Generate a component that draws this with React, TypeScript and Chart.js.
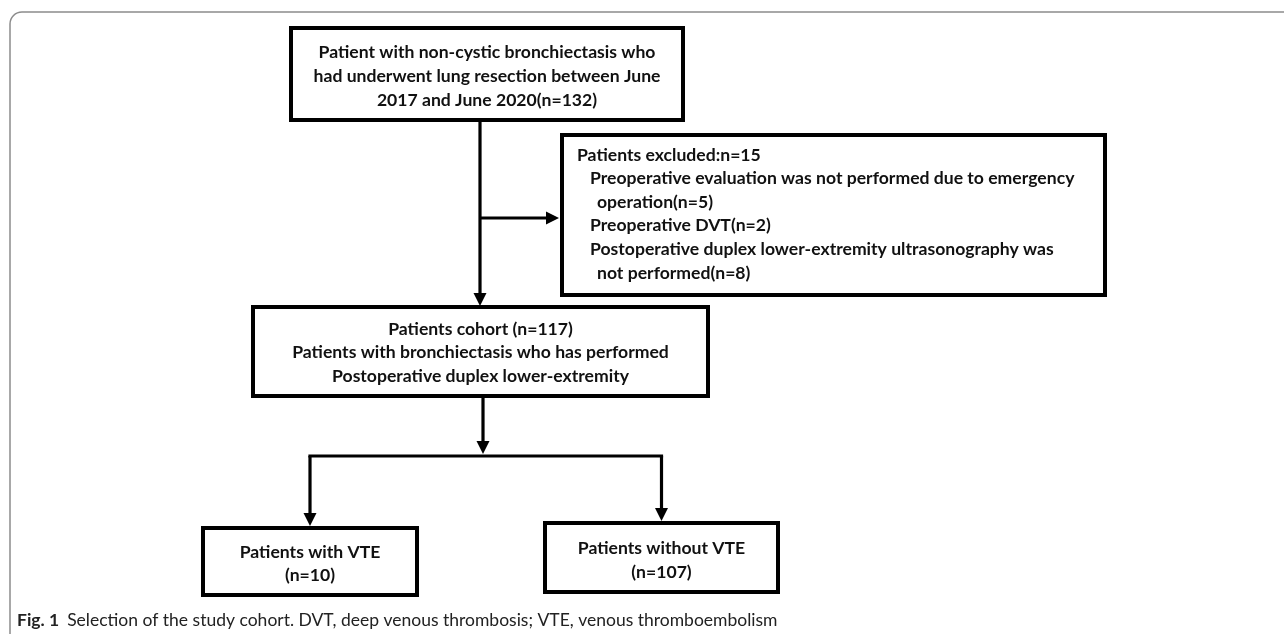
import React, { useEffect, useRef } from "react";
import { Chart, registerables } from "chart.js";

Chart.register(...registerables);

// ---- content (data) ----
const sourceLines = [
  "Patient with non-cystic bronchiectasis who",
  "had underwent lung resection between June",
  "2017 and June 2020(n=132)",
];
const excludedHeader = "Patients excluded:n=15";
const excludedReasons = [
  ["Preoperative evaluation was not performed due to emergency", "operation(n=5)"],
  ["Preoperative DVT(n=2)"],
  ["Postoperative duplex lower-extremity ultrasonography was", "not performed(n=8)"],
];
const cohortLines = [
  "Patients cohort (n=117)",
  "Patients with bronchiectasis who has performed",
  "Postoperative duplex lower-extremity",
];
const vteLines = ["Patients with VTE", "(n=10)"];
const noVteLines = ["Patients without VTE", "(n=107)"];
const captionLabel = "Fig. 1";
const captionText =
  "Selection of the study cohort. DVT, deep venous thrombosis; VTE, venous thromboembolism";

// ---- layout (in scale units) ----
const W = 1284;
const H = 634;
const layout = {
  source: { x0: 291, x1: 683, y0: 28, y1: 120, lineH: 24, firstY: 52 },
  excluded: { x0: 562, x1: 1105, y0: 135, y1: 295, lineH: 23.6, firstY: 155, hx: 577, rx: 590, cx: 597 },
  cohort: { x0: 253, x1: 708, y0: 307, y1: 396, lineH: 23.5, firstY: 329 },
  vte: { x0: 203, x1: 417, y0: 528, y1: 595, lineH: 23, firstY: 552 },
  noVte: { x0: 545, x1: 778, y0: 523, y1: 592, lineH: 24, firstY: 548 },
  trunkX: 480,
  sideY: 218,
  trunk2X: 483,
  splitY: 456,
  caption: { x: 17, y: 620 },
};
const boxFont = "bold 17.6px Lato";
const captionBold = "bold 17.5px Lato";
const captionFont = "17.5px Lato";

const flowPlugin = {
  id: "flow",
  afterDraw(chart: any) {
    const ctx: CanvasRenderingContext2D = chart.ctx;
    const xs = chart.scales.x;
    const ys = chart.scales.y;
    const X = (v: number) => xs.getPixelForValue(v);
    const Y = (v: number) => ys.getPixelForValue(v);

    ctx.save();
    // frame
    ctx.strokeStyle = "#8c8c8c";
    ctx.lineWidth = 1.5;
    ctx.beginPath();
    ctx.moveTo(X(10), Y(H + 10));
    ctx.lineTo(X(10), Y(24));
    ctx.arcTo(X(10), Y(12), X(22), Y(12), 12);
    ctx.lineTo(X(W + 10), Y(12));
    ctx.stroke();

    const rect = (b: any) => {
      ctx.strokeStyle = "#000";
      ctx.lineWidth = 4;
      ctx.strokeRect(X(b.x0), Y(b.y0), X(b.x1) - X(b.x0), Y(b.y1) - Y(b.y0));
    };
    const centered = (b: any, lines: string[]) => {
      ctx.fillStyle = "#111";
      ctx.font = boxFont;
      ctx.textAlign = "center";
      ctx.textBaseline = "middle";
      const cx = (b.x0 + b.x1) / 2;
      lines.forEach((t, i) => ctx.fillText(t, X(cx), Y(b.firstY + i * b.lineH)));
    };
    const arrow = (x0: number, y0: number, x1: number, y1: number) => {
      const px0 = X(x0), py0 = Y(y0), px1 = X(x1), py1 = Y(y1);
      const dx = px1 - px0, dy = py1 - py0;
      const len = Math.hypot(dx, dy);
      const ux = dx / len, uy = dy / len;
      const hl = 13, hw = 6.5;
      ctx.strokeStyle = "#000";
      ctx.lineWidth = 3.2;
      ctx.beginPath();
      ctx.moveTo(px0, py0);
      ctx.lineTo(px1 - ux * hl, py1 - uy * hl);
      ctx.stroke();
      ctx.fillStyle = "#000";
      ctx.beginPath();
      ctx.moveTo(px1, py1);
      ctx.lineTo(px1 - ux * hl - uy * hw, py1 - uy * hl + ux * hw);
      ctx.lineTo(px1 - ux * hl + uy * hw, py1 - uy * hl - ux * hw);
      ctx.closePath();
      ctx.fill();
    };
    const line = (x0: number, y0: number, x1: number, y1: number) => {
      ctx.strokeStyle = "#000";
      ctx.lineWidth = 3.2;
      ctx.beginPath();
      ctx.moveTo(X(x0), Y(y0));
      ctx.lineTo(X(x1), Y(y1));
      ctx.stroke();
    };

    const L = layout;
    rect(L.source);
    centered(L.source, sourceLines);

    rect(L.excluded);
    ctx.fillStyle = "#111";
    ctx.font = boxFont;
    ctx.textAlign = "left";
    ctx.textBaseline = "middle";
    const e = L.excluded;
    ctx.fillText(excludedHeader, X(e.hx), Y(e.firstY));
    let row = 1;
    excludedReasons.forEach((reason) => {
      reason.forEach((t, j) => {
        ctx.fillText(t, X(j === 0 ? e.rx : e.cx), Y(e.firstY + row * e.lineH));
        row++;
      });
    });

    rect(L.cohort);
    centered(L.cohort, cohortLines);
    rect(L.vte);
    centered(L.vte, vteLines);
    rect(L.noVte);
    centered(L.noVte, noVteLines);

    // connectors
    arrow(L.trunkX, L.source.y1, L.trunkX, L.cohort.y0 - 1);
    arrow(L.trunkX, L.sideY, L.excluded.x0 - 3, L.sideY);
    arrow(L.trunk2X, L.cohort.y1, L.trunk2X, L.splitY - 2);
    const lx = (L.vte.x0 + L.vte.x1) / 2;
    const rx = (L.noVte.x0 + L.noVte.x1) / 2;
    line(lx - 1.6, L.splitY, rx + 1.6, L.splitY);
    arrow(lx, L.splitY, lx, L.vte.y0 - 2);
    arrow(rx, L.splitY, rx, L.noVte.y0 - 2);

    // caption
    ctx.textAlign = "left";
    ctx.textBaseline = "middle";
    ctx.fillStyle = "#222";
    ctx.font = captionBold;
    ctx.fillText(captionLabel, X(L.caption.x), Y(L.caption.y));
    const w = ctx.measureText(captionLabel).width;
    ctx.font = captionFont;
    ctx.fillText(captionText, X(L.caption.x) + w + 8, Y(L.caption.y));
    ctx.restore();
  },
};

export default function App() {
  const ref = useRef<HTMLCanvasElement>(null);
  useEffect(() => {
    if (!ref.current) return;
    const chart = new Chart(ref.current, {
      type: "scatter",
      data: { datasets: [{ data: [], pointRadius: 0 }] },
      options: {
        responsive: false,
        animation: false,
        devicePixelRatio: 1,
        layout: { padding: 0 },
        plugins: { legend: { display: false }, tooltip: { enabled: false } },
        scales: {
          x: { type: "linear", min: 0, max: W, display: false },
          y: { type: "linear", min: 0, max: H, reverse: true, display: false },
        },
      },
      plugins: [flowPlugin],
    });
    return () => chart.destroy();
  }, []);
  return (
    <div style={{ position: "absolute", left: 0, top: 0, width: W, height: H, background: "#fff" }}>
      <canvas ref={ref} width={W} height={H} style={{ display: "block" }} />
    </div>
  );
}
